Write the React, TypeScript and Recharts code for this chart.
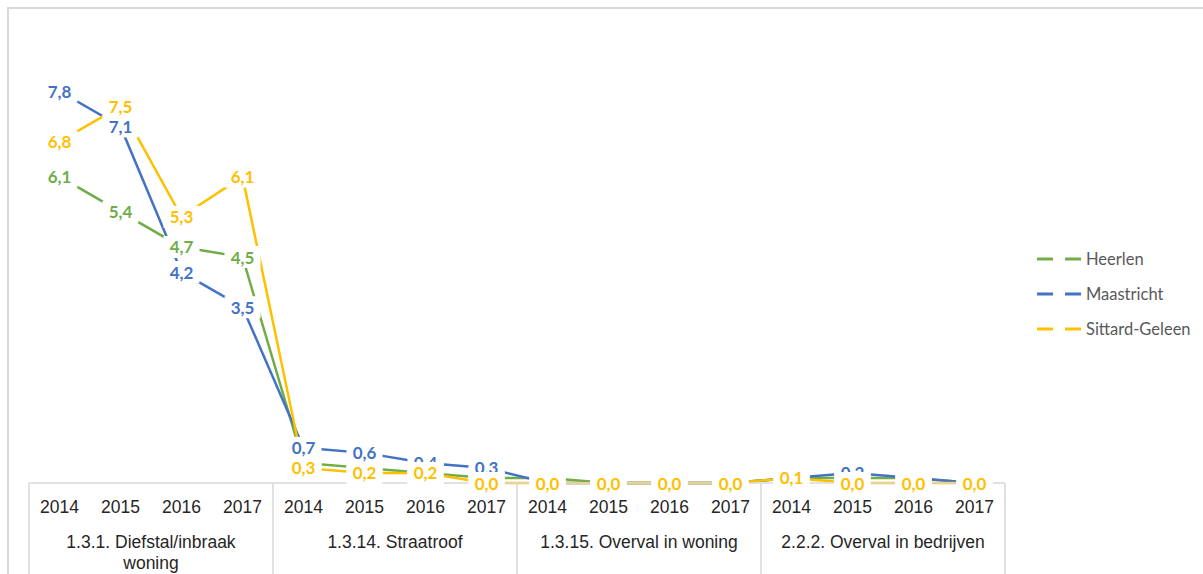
import { LineChart, Line, XAxis, YAxis, LabelList } from 'recharts';

// chart values
const groups = ['1.3.1. Diefstal/inbraak woning', '1.3.14. Straatroof', '1.3.15. Overval in woning', '2.2.2. Overval in bedrijven'];
const years = ['2014', '2015', '2016', '2017'];
const heerlen = [6.1, 5.4, 4.7, 4.5, 0.4, 0.3, 0.2, 0.1, 0.1, 0.0, 0.0, 0.0, 0.1, 0.1, 0.1, 0.0];
const maastricht = [7.8, 7.1, 4.2, 3.5, 0.7, 0.6, 0.4, 0.3, 0.0, 0.0, 0.0, 0.0, 0.1, 0.2, 0.1, 0.0];
const sittard = [6.8, 7.5, 5.3, 6.1, 0.3, 0.2, 0.2, 0.0, 0.0, 0.0, 0.0, 0.0, 0.1, 0.0, 0.0, 0.0];

const SERIES = [
    { key: 'heerlen', name: 'Heerlen', color: '#70AD47' },
    { key: 'maastricht', name: 'Maastricht', color: '#4472C4' },
    { key: 'sittard', name: 'Sittard-Geleen', color: '#FFC000' },
];

const WIDTH = 1203;
const HEIGHT = 574;
const MARGIN = { top: 31, right: 198, bottom: 0, left: 29 };
const AXIS_H = 91;
const N = groups.length * years.length;
const BAND = (WIDTH - MARGIN.left - MARGIN.right) / N;
const AXIS_TOP = HEIGHT - AXIS_H;

const data = groups.flatMap((g, gi) =>
    years.map((yr, yi) => {
        const i = gi * years.length + yi;
        return { id: `${g}|${yr}`, year: yr, group: g, heerlen: heerlen[i], maastricht: maastricht[i], sittard: sittard[i] };
    })
);

// category labels wrap like Excel when they get too long for the group
const wrap = (s: string, max = 28) => {
    if (s.length <= max) return [s];
    const words = s.split(' ');
    const lines: string[] = [];
    let cur = '';
    words.forEach((w) => {
        const next = cur ? cur + ' ' + w : w;
        if (next.length > 24 && cur) {
            lines.push(cur);
            cur = w;
        } else cur = next;
    });
    if (cur) lines.push(cur);
    return lines;
};

const CategoryTick = ({ x, index }: any) => {
    const row = data[index];
    const yi = index % years.length;
    const textStyle = { fontFamily: '"Liberation Sans", Arial, sans-serif', fontSize: 17.5, fill: '#262626' };
    return (
        <g>
            <text x={x} y={AXIS_TOP + 24} textAnchor="middle" dominantBaseline="central" style={textStyle}>{row.year}</text>
            {yi === 0 && (
                <>
                    <line x1={x - BAND / 2} x2={x - BAND / 2} y1={AXIS_TOP} y2={HEIGHT} stroke="#d9d9d9" strokeWidth={1.5} />
                    {wrap(row.group).map((ln, li) => (
                        <text key={li} x={x + BAND * 1.5} y={AXIS_TOP + 59 + li * 21} textAnchor="middle" dominantBaseline="central" style={textStyle}>{ln}</text>
                    ))}
                </>
            )}
            {index === N - 1 && (
                <line x1={x + BAND / 2} x2={x + BAND / 2} y1={AXIS_TOP} y2={HEIGHT} stroke="#d9d9d9" strokeWidth={1.5} />
            )}
        </g>
    );
};

const makeLabel = (color: string) => (props: any) => {
    const { x, y, value } = props;
    if (value == null) return null;
    return (
        <g>
            <rect x={x - 18} y={y - 11} width={36} height={22} fill="#fff" />
            <text x={x} y={y} textAnchor="middle" dominantBaseline="central"
                style={{ fontFamily: 'Lato, "Open Sans", sans-serif', fontWeight: 700, fontSize: 17, fill: color }}>
                {Number(value).toFixed(1).replace('.', ',')}
            </text>
        </g>
    );
};

export default function App() {
    return (
        <div style={{ position: 'absolute', left: 0, top: 0, width: WIDTH, height: HEIGHT, background: '#fff', overflow: 'hidden' }}>
            <div style={{ position: 'absolute', left: 7, top: 7, width: WIDTH + 20, height: HEIGHT + 20, borderLeft: '2px solid #d9d9d9', borderTop: '2px solid #d9d9d9' }} />
            <div style={{ position: 'absolute', left: 0, top: 0 }}>
                <LineChart width={WIDTH} height={HEIGHT} data={data} margin={MARGIN}>
                    <XAxis dataKey="id" interval={0} height={AXIS_H} tickLine={false} axisLine={{ stroke: '#d9d9d9', strokeWidth: 1.5 }}
                        padding={{ left: BAND / 2, right: BAND / 2 }} tick={<CategoryTick />} />
                    <YAxis hide domain={[0, 9]} />
                    {SERIES.map((s) => (
                        <Line key={s.key} type="linear" dataKey={s.key} name={s.name} stroke={s.color} strokeWidth={2.5} dot={false} isAnimationActive={false} />
                    ))}
                    {/* labels go on top of every line, each with a white box behind it */}
                    {SERIES.map((s) => (
                        <Line key={s.key + '-lbl'} type="linear" dataKey={s.key} stroke="none" dot={false} legendType="none" isAnimationActive={false}>
                            <LabelList dataKey={s.key} content={makeLabel(s.color)} />
                        </Line>
                    ))}
                </LineChart>
            </div>
            {SERIES.map((s, i) => (
                <div key={s.key} style={{ position: 'absolute', left: 1037, top: 249 + i * 35, height: 20, display: 'flex', alignItems: 'center' }}>
                    <svg width={44} height={4}>
                        <line x1={0} x2={44} y1={2} y2={2} stroke={s.color} strokeWidth={3} strokeDasharray="16 12" />
                    </svg>
                    <span style={{ marginLeft: 5, fontFamily: 'Lato, sans-serif', fontSize: 16.5, color: '#595959' }}>{s.name}</span>
                </div>
            ))}
        </div>
    );
}
